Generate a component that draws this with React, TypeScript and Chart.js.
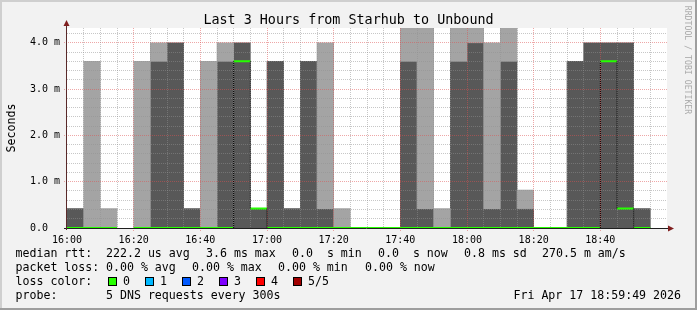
import React, { useEffect, useRef } from "react";
import { Chart, registerables } from "chart.js";

Chart.register(...registerables);

// ---------- data ----------
const STEP_MIN = 5; // one smokeping step = 5 minutes, starting 16:00
const SPAN_MIN = 180; // Last 3 hours: 16:00 .. 19:00
const Y_MAX = 4.32; // ms

// top of the dark smoke band (dark band starts at 0), null = none
const darkTop: (number | null)[] = [
  0.42, null, null, null, null, 3.6, 4.0, 0.42, null, 3.6,
  4.0, 0.42, 3.6, 0.42, 3.6, 0.42, null, null, null, null,
  3.6, 0.42, null, 3.6, 4.0, 0.42, 3.6, 0.42, null, null,
  3.6, 4.0, 4.0, 4.0, 0.42, null,
];
// light smoke band [bottom, top], null = none
const lightLow: (number | null)[] = [
  null, 0, 0, null, 0, 3.6, null, null, 0, 3.6,
  null, null, null, null, null, 0.42, 0, null, null, null,
  3.6, 0.42, 0, 3.6, 4.0, 0.42, 3.6, 0.42, null, null,
  null, null, null, null, null, null,
];
const lightHigh: (number | null)[] = [
  null, 3.6, 0.42, null, 3.6, 4.0, null, null, 3.6, 4.0,
  null, null, null, null, null, 4.0, 0.42, null, null, null,
  4.4, 4.4, 0.42, 4.4, 4.4, 4.0, 4.4, 0.82, null, null,
  null, null, null, null, null, null,
];
// median rtt per step (drawn in loss colour "0"), null = unknown
const median: (number | null)[] = [
  0, 0, 0, null, 0, 0, 0, 0, 0, 0,
  3.6, 0.42, 0, 0, 0, 0, 0, 0, 0, 0,
  0, 0, 0, 0, 0, 0, 0, 0, 0, 0,
  0, 0, 3.6, 0.42, 0, null,
];

const xTickLabels = ["16:00", "16:20", "16:40", "17:00", "17:20", "17:40", "18:00", "18:20", "18:40"];
const xTickMinutes = [0, 20, 40, 60, 80, 100, 120, 140, 160];
const yTickLabels = ["0.0", "1.0 m", "2.0 m", "3.0 m", "4.0 m"];
const yTickValues = [0, 1, 2, 3, 4];

const titleText = "Last 3 Hours from Starhub to Unbound";
const yAxisTitle = "Seconds";
const watermark = "RRDTOOL / TOBI OETIKER";
const rowLabels = ["median rtt:", "packet loss:", "loss color:", "probe:"];
const rttStats = ["222.2 us avg", "3.6 ms max", "0.0  s min", "0.0  s now", "0.8 ms sd", "270.5 m am/s"];
const lossStats = ["0.00 % avg", "0.00 % max", "0.00 % min", "0.00 % now"];
const lossLabels = ["0", "1", "2", "3", "4", "5/5"];
const lossColors = ["#26ff00", "#00b8ff", "#0059ff", "#7e00ff", "#ff0000", "#a10000"];
const probeText = "5 DNS requests every 300s";
const dateText = "Fri Apr 17 18:59:49 2026";

// ---------- styling ----------
const MONO = "'DejaVu Sans Mono', monospace";
const DARK = "#585858";
const LIGHT = "#a4a4a4";
const BG = "#f2f2f2";
const MINOR_GRID = "rgba(143,143,143,0.5)";
const MAJOR_GRID = "rgba(222,79,79,0.5)";
const ARROW = "#801f1f";

// ---------- derived datasets ----------
const darkPoints = darkTop
  .map((t, i) => (t === null ? null : { x: i * STEP_MIN + STEP_MIN / 2, y: [0, t] }))
  .filter(Boolean);
const lightPoints = lightLow
  .map((lo, i) => (lo === null || lightHigh[i] === null ? null : { x: i * STEP_MIN + STEP_MIN / 2, y: [lo, lightHigh[i]] }))
  .filter(Boolean);

const medianPoints: { x: number; y: number | null }[] = [];
median.forEach((m, i) => {
  if (m === null) return;
  const prev = i > 0 ? median[i - 1] : null;
  if (prev !== m) {
    if (medianPoints.length) medianPoints.push({ x: i * STEP_MIN, y: null });
    medianPoints.push({ x: i * STEP_MIN, y: m });
  }
  medianPoints.push({ x: (i + 1) * STEP_MIN, y: m });
});

const stepPoints: { x: number; y: number | null }[] = [];
median.forEach((m, i) => {
  const prev = i > 0 ? median[i - 1] : null;
  if (m === null || prev === null || prev === m) return;
  stepPoints.push({ x: i * STEP_MIN, y: prev }, { x: i * STEP_MIN, y: m }, { x: i * STEP_MIN, y: null });
});

// ---------- plugins ----------
const canvasBg = {
  id: "canvasBg",
  beforeDraw(chart: any) {
    const { ctx, chartArea: a } = chart;
    ctx.save();
    ctx.fillStyle = "#ffffff";
    ctx.fillRect(a.left, a.top, a.right - a.left, a.bottom - a.top);
    ctx.restore();
  },
};

const rrdGrid = {
  id: "rrdGrid",
  beforeDatasetDraw(chart: any, args: any) {
    if (args.index !== 0) return;
    const { ctx, chartArea: a, scales } = chart;
    const xs = scales.x;
    const ys = scales.y;
    ctx.save();
    ctx.lineWidth = 1;
    ctx.setLineDash([1, 1]);
    // horizontal
    for (let k = 1; k * 0.2 <= Y_MAX; k++) {
      const major = k % 5 === 0;
      const py = Math.floor(ys.getPixelForValue(k * 0.2)) + 0.5;
      ctx.strokeStyle = major ? MAJOR_GRID : MINOR_GRID;
      ctx.beginPath();
      ctx.moveTo(major ? a.left - 3 : a.left, py);
      ctx.lineTo(a.right, py);
      ctx.stroke();
    }
    // vertical
    for (let k = 1; k * STEP_MIN < SPAN_MIN; k++) {
      const major = k % 4 === 0;
      const px = Math.floor(xs.getPixelForValue(k * STEP_MIN)) + 0.5;
      ctx.strokeStyle = major ? MAJOR_GRID : MINOR_GRID;
      ctx.beginPath();
      ctx.moveTo(px, a.top);
      ctx.lineTo(px, major ? a.bottom + 3 : a.bottom);
      ctx.stroke();
    }
    ctx.restore();
  },
};

const rrdAxes = {
  id: "rrdAxes",
  afterDatasetsDraw(chart: any) {
    const { ctx, chartArea: a } = chart;
    ctx.save();
    ctx.setLineDash([]);
    ctx.lineWidth = 1;
    // x axis
    ctx.strokeStyle = "#1f1f1f";
    ctx.beginPath();
    ctx.moveTo(a.left - 3, a.bottom + 0.5);
    ctx.lineTo(a.right + 2, a.bottom + 0.5);
    ctx.stroke();
    // y axis
    ctx.strokeStyle = "#5a2a2a";
    ctx.beginPath();
    ctx.moveTo(a.left - 0.5, a.bottom + 2);
    ctx.lineTo(a.left - 0.5, a.top - 5);
    ctx.stroke();
    // arrows
    ctx.fillStyle = ARROW;
    ctx.beginPath();
    ctx.moveTo(a.left - 0.5, a.top - 8);
    ctx.lineTo(a.left - 3.5, a.top - 2);
    ctx.lineTo(a.left + 2.5, a.top - 2);
    ctx.closePath();
    ctx.fill();
    ctx.beginPath();
    ctx.moveTo(a.right + 7, a.bottom + 0.5);
    ctx.lineTo(a.right + 1, a.bottom - 2.5);
    ctx.lineTo(a.right + 1, a.bottom + 3.5);
    ctx.closePath();
    ctx.fill();
    ctx.restore();
  },
};

// ---------- component ----------
function textStyle(left: number, baseline: number, size: number, extra: any = {}): React.CSSProperties {
  return {
    position: "absolute",
    left,
    top: baseline - 0.846 * size,
    fontFamily: MONO,
    fontSize: size,
    lineHeight: `${size}px`,
    whiteSpace: "pre",
    color: "#000",
    ...extra,
  };
}

const LEG_SIZE = 11.6;
const LEG_BASE = [258, 271.9, 285.8, 299.6];
const rttX = [106, 206, 292, 378, 464, 542];
const lossX = [106, 192, 278, 365];
const swatchX = [108, 145, 182, 219, 256, 293];

export default function App() {
  const ref = useRef<HTMLCanvasElement>(null);

  useEffect(() => {
    if (!ref.current) return;
    const chart = new Chart(ref.current, {
      type: "bar",
      data: {
        datasets: [
          {
            type: "line",
            label: "median",
            data: medianPoints as any,
            borderColor: lossColors[0],
            borderWidth: 2,
            pointRadius: 0,
            fill: false,
            tension: 0,
            spanGaps: false,
            order: 1,
          } as any,
          {
            type: "line",
            label: "median steps",
            data: stepPoints as any,
            borderColor: "#000000",
            borderWidth: 1,
            borderDash: [1, 1],
            pointRadius: 0,
            fill: false,
            spanGaps: false,
            order: 0,
          } as any,
          {
            type: "bar",
            label: "light smoke",
            data: lightPoints as any,
            backgroundColor: LIGHT,
            borderWidth: 0,
            grouped: false,
            barPercentage: 1,
            categoryPercentage: 1,
            order: 2,
          } as any,
          {
            type: "bar",
            label: "dark smoke",
            data: darkPoints as any,
            backgroundColor: DARK,
            borderWidth: 0,
            grouped: false,
            barPercentage: 1,
            categoryPercentage: 1,
            order: 2,
          } as any,
        ],
      },
      options: {
        animation: false,
        responsive: false,
        devicePixelRatio: 1,
        events: [],
        layout: { padding: { left: 30, top: 28, right: 30, bottom: 0 } },
        plugins: {
          legend: { display: false },
          tooltip: { enabled: false },
          title: { display: false },
        },
        scales: {
          x: {
            type: "linear",
            min: 0,
            max: SPAN_MIN,
            offset: false,
            grid: { display: false, drawTicks: false },
            border: { display: false },
            ticks: {
              autoSkip: false,
              maxRotation: 0,
              padding: 6,
              color: "#000",
              font: { family: MONO, size: 10 },
              callback: (_v: any, i: number) => xTickLabels[i],
            },
            afterBuildTicks: (s: any) => {
              s.ticks = xTickMinutes.map((v) => ({ value: v }));
            },
            afterFit: (s: any) => {
              s.height = 82;
            },
          },
          y: {
            type: "linear",
            min: 0,
            max: Y_MAX,
            grid: { display: false, drawTicks: false },
            border: { display: false },
            ticks: {
              crossAlign: "far",
              color: "#000",
              font: { family: MONO, size: 10 },
              callback: (_v: any, i: number) => yTickLabels[i],
            },
            afterBuildTicks: (s: any) => {
              s.ticks = yTickValues.map((v) => ({ value: v }));
            },
            afterFit: (s: any) => {
              s.width = 37;
            },
          },
        },
      } as any,
      plugins: [canvasBg, rrdGrid, rrdAxes],
    });
    return () => chart.destroy();
  }, []);

  return (
    <div style={{ position: "absolute", left: 0, top: 0, width: 697, height: 310, background: BG, overflow: "hidden" }}>
      <canvas ref={ref} width={697} height={310} style={{ position: "absolute", left: 0, top: 0, width: 697, height: 310 }} />
      {/* title */}
      <div style={textStyle(0, 24.3, 13.4, { width: 697, textAlign: "center" })}>{titleText}</div>
      {/* y axis title */}
      <div
        style={{
          position: "absolute",
          left: 11 - 50,
          top: 128 - 6,
          width: 100,
          height: 12,
          lineHeight: "12px",
          fontFamily: MONO,
          fontSize: 11.6,
          textAlign: "center",
          transform: "rotate(-90deg)",
          whiteSpace: "pre",
        }}
      >
        {yAxisTitle}
      </div>
      {/* watermark */}
      <div
        style={{
          position: "absolute",
          left: 688 - 70,
          top: 59.5 - 5,
          width: 140,
          height: 10,
          lineHeight: "10px",
          fontFamily: MONO,
          fontSize: 8.2,
          color: "#aaaaaa",
          textAlign: "center",
          transform: "rotate(90deg)",
          whiteSpace: "pre",
        }}
      >
        {watermark}
      </div>
      {/* legend rows */}
      {rowLabels.map((l, r) => (
        <div key={"l" + r} style={textStyle(15.5, LEG_BASE[r], LEG_SIZE)}>
          {l}
        </div>
      ))}
      {rttStats.map((t, i) => (
        <div key={"r" + i} style={textStyle(rttX[i], LEG_BASE[0], LEG_SIZE)}>
          {t}
        </div>
      ))}
      {lossStats.map((t, i) => (
        <div key={"p" + i} style={textStyle(lossX[i], LEG_BASE[1], LEG_SIZE)}>
          {t}
        </div>
      ))}
      {lossLabels.map((t, i) => (
        <React.Fragment key={"c" + i}>
          <div
            style={{
              position: "absolute",
              left: swatchX[i],
              top: 277,
              width: 9,
              height: 9,
              boxSizing: "border-box",
              border: "1px solid #000",
              background: lossColors[i],
            }}
          />
          <div style={textStyle(swatchX[i] + 15, LEG_BASE[2], LEG_SIZE)}>{t}</div>
        </React.Fragment>
      ))}
      <div style={textStyle(106, LEG_BASE[3], LEG_SIZE)}>{probeText}</div>
      <div style={textStyle(0, LEG_BASE[3], LEG_SIZE, { left: "auto", right: 16 })}>{dateText}</div>
      {/* 3D frame */}
      <div style={{ position: "absolute", left: 0, top: 0, width: 697, height: 2, background: "#cfcfcf" }} />
      <div style={{ position: "absolute", left: 0, top: 0, width: 2, height: 310, background: "#cfcfcf" }} />
      <div style={{ position: "absolute", left: 0, top: 308, width: 697, height: 2, background: "#9e9e9e" }} />
      <div style={{ position: "absolute", left: 695, top: 0, width: 2, height: 310, background: "#9e9e9e" }} />
    </div>
  );
}
